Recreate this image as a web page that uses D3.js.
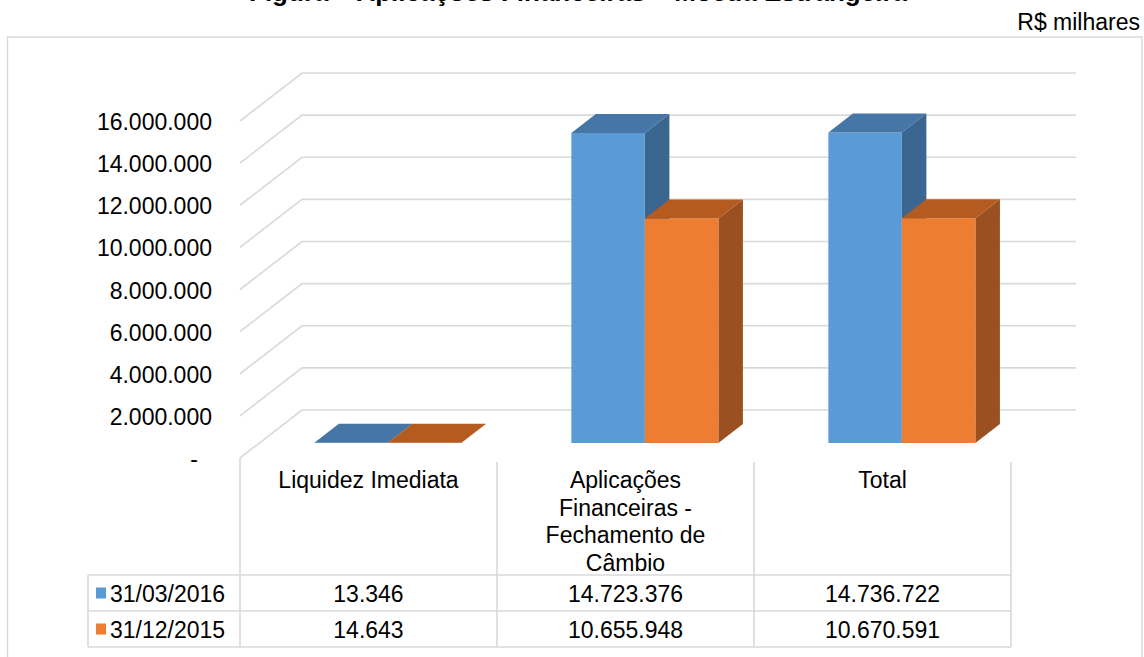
<!DOCTYPE html>
<html>
<head>
<meta charset="utf-8">
<script src="https://cdn.jsdelivr.net/npm/d3@7/dist/d3.min.js"></script>
<style>
  html, body { margin: 0; padding: 0; background: #fff; }
  svg { display: block; font-family: "Liberation Sans", Arial, sans-serif; }
</style>
</head>
<body>
<svg id="chart" width="1144" height="657"></svg>
<script>
// ---------- data ----------
const categories = ["Liquidez Imediata", "Aplicações Financeiras - Fechamento de Câmbio", "Total"];
const categoryLines = [["Liquidez Imediata"], ["Aplicações", "Financeiras -", "Fechamento de", "Câmbio"], ["Total"]];
const seriesNames = ["31/03/2016", "31/12/2015"];
const values2016 = [13346, 14723376, 14736722];
const values2015 = [14643, 10655948, 10670591];
const tickValues = [0, 2000000, 4000000, 6000000, 8000000, 10000000, 12000000, 14000000, 16000000];
const titleText = "Figura – Aplicações Financeiras – Moeda Estrangeira";
const unitText = "R$ milhares";

// ---------- styles ----------
const colors = [
  { front: "#5b9bd5", top: "#4676a6", side: "#3a6690" },
  { front: "#ed7d31", top: "#b65b1f", side: "#9a5020" }
];
const gridColor = "#d9d9d9";
const fontSize = 23;

const svg = d3.select("#chart");

// outer frame
svg.append("rect").attr("x", 7.5).attr("y", 37).attr("width", 1134.5).attr("height", 700)
  .attr("fill", "none").attr("stroke", gridColor).attr("stroke-width", 1.5);

// title (cropped at top) and unit
svg.append("text").attr("x", 578).attr("y", 1).attr("text-anchor", "middle")
  .attr("font-weight", "bold").attr("font-size", 26).attr("fill", "#000").text(titleText);
svg.append("text").attr("x", 1140).attr("y", 30).attr("text-anchor", "end")
  .attr("font-size", fontSize).attr("fill", "#000").text(unitText);

// ---------- scales ----------
const x = d3.scaleBand().domain(categories).range([240, 1011]).paddingInner(0).paddingOuter(0);
const xs = d3.scaleBand().domain(seriesNames).range([0, x.bandwidth()]).paddingInner(0).paddingOuter(0.748);
const y = d3.scaleLinear().domain([0, 16000000]).range([458, 121]);
const DX = 62, DY = -48;          // full depth offset
const f1 = 0.3125, f2 = 0.708;    // bar front / back depth fraction
const P = (px, py, d) => [px + d * DX, py + d * DY];
const gridRight = x.range()[1] + DX + 3;

// ---------- gridlines (walls) ----------
const fmt = v => v === 0 ? "-" : d3.format(",")(v).replace(/,/g, ".");
const grid = svg.append("g");
tickValues.forEach(v => {
  const yy = y(v);
  const pts = [[x.range()[0], yy], P(x.range()[0], yy, 1), [gridRight, yy + DY]];
  grid.append("polyline").attr("points", pts.map(p => p.join(",")).join(" "))
    .attr("fill", "none").attr("stroke", gridColor).attr("stroke-width", 1.6);
  grid.append("text").attr("x", v === 0 ? 198 : 212).attr("y", yy + 1)
    .attr("dy", "0.35em").attr("text-anchor", "end")
    .attr("font-size", fontSize).attr("fill", "#000").text(fmt(v));
});

// ---------- 3D bars ----------
const seriesValues = [values2016, values2015];
const bars = svg.append("g");
categories.forEach((c, ci) => {
  seriesNames.forEach((s, si) => {
    const v = seriesValues[si][ci];
    const x0 = x(c) + xs(s), x1 = x0 + xs.bandwidth();
    const yT = y(v), yB = y(0);
    const col = colors[si];
    const poly = (pts, fill) => bars.append("polygon")
      .attr("points", pts.map(p => p.join(",")).join(" ")).attr("fill", fill);
    // side
    poly([P(x1, yT, f1), P(x1, yB, f1), P(x1, yB, f2), P(x1, yT, f2)], col.side);
    // front
    poly([P(x0, yT, f1), P(x1, yT, f1), P(x1, yB, f1), P(x0, yB, f1)], col.front);
    // top
    poly([P(x0, yT, f1), P(x1, yT, f1), P(x1, yT, f2), P(x0, yT, f2)], col.top);
  });
});

// ---------- data table ----------
const table = svg.append("g");
const rowTop = 575, rowH = 36, legendLeft = 88;
const line = (x1_, y1_, x2_, y2_) => table.append("line")
  .attr("x1", x1_).attr("y1", y1_).attr("x2", x2_).attr("y2", y2_)
  .attr("stroke", gridColor).attr("stroke-width", 1.6);

// vertical lines
line(x.range()[0], y(0), x.range()[0], rowTop + 2 * rowH);
categories.forEach(c => line(x(c) + x.bandwidth(), 462, x(c) + x.bandwidth(), rowTop + 2 * rowH));
line(legendLeft, rowTop, legendLeft, rowTop + 2 * rowH);
// horizontal lines
[0, 1, 2].forEach(i => line(legendLeft, rowTop + i * rowH, x.range()[1], rowTop + i * rowH));

// category labels
categories.forEach((c, ci) => {
  const t = table.append("text").attr("text-anchor", "middle")
    .attr("font-size", fontSize).attr("fill", "#000");
  categoryLines[ci].forEach((ln, li) => {
    t.append("tspan").attr("x", x(c) + x.bandwidth() / 2).attr("y", 488 + li * 27.5).text(ln);
  });
});

// series rows
seriesNames.forEach((s, si) => {
  const cy = rowTop + si * rowH + rowH / 2;
  table.append("rect").attr("x", 96).attr("y", cy - 5.5).attr("width", 10).attr("height", 11)
    .attr("fill", colors[si].front);
  table.append("text").attr("x", 110).attr("y", cy + 1).attr("dy", "0.35em")
    .attr("font-size", fontSize).attr("fill", "#000").text(s);
  categories.forEach((c, ci) => {
    table.append("text").attr("x", x(c) + x.bandwidth() / 2).attr("y", cy + 1).attr("dy", "0.35em")
      .attr("text-anchor", "middle").attr("font-size", fontSize).attr("fill", "#000")
      .text(fmt(seriesValues[si][ci]));
  });
});
</script>
</body>
</html>
